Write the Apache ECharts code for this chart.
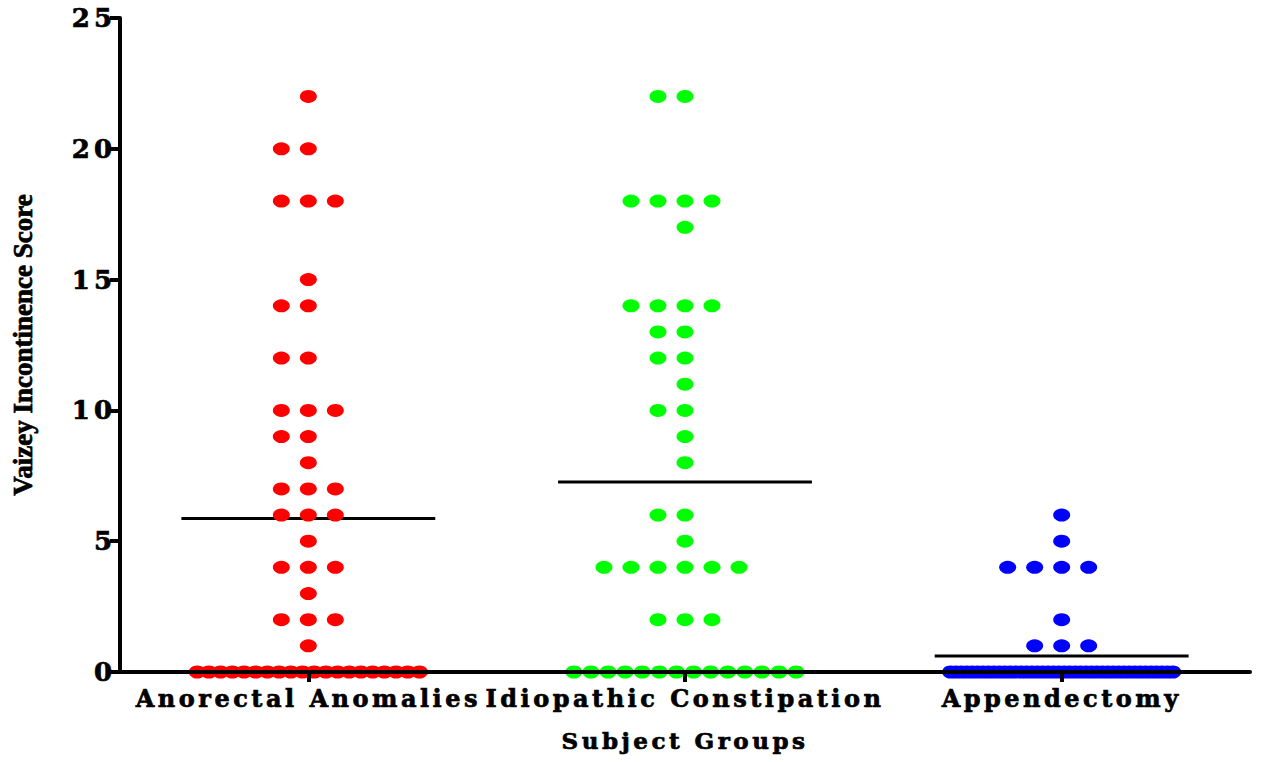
<!DOCTYPE html>
<html>
<head>
<meta charset="utf-8">
<script src="https://cdn.jsdelivr.net/npm/echarts@6/dist/echarts.min.js"></script>
<style>
  html, body { margin: 0; padding: 0; background: #ffffff; }
  #chart { width: 1261px; height: 762px; }
  /* widen the bold serif labels a little */
  #chart text[style*="26px"] { letter-spacing: 4px; }
  #chart text[style*="24px"] { letter-spacing: 3.5px; }
  #chart text[style*="23px"] { letter-spacing: 3.5px; }
</style>
</head>
<body>
<div id="chart"></div>
<script>
// Subject groups shown along the x axis
const groupNames = ['Anorectal Anomalies', 'Idiopathic Constipation', 'Appendectomy'];
const groupColors = ['#ff0000', '#00ff00', '#0000ff'];

// Vaizey incontinence score of every subject, one array per group
const anorectalScores = [
  22, 20, 20, 18, 18, 18, 15, 14, 14, 12, 12, 10, 10, 10, 9, 9, 8,
  7, 7, 7, 6, 6, 6, 5, 4, 4, 4, 3, 2, 2, 2, 1,
  0, 0, 0, 0, 0, 0, 0, 0, 0, 0, 0, 0, 0, 0, 0, 0, 0, 0, 0, 0
];
const idiopathicScores = [
  22, 22, 18, 18, 18, 18, 17, 14, 14, 14, 14, 13, 13, 12, 12, 11, 10, 10,
  9, 8, 6, 6, 5, 4, 4, 4, 4, 4, 4, 2, 2, 2,
  0, 0, 0, 0, 0, 0, 0, 0, 0, 0, 0, 0, 0, 0
];
const appendectomyScores = [
  6, 5, 4, 4, 4, 4, 2, 1, 1, 1,
  0, 0, 0, 0, 0, 0, 0, 0, 0, 0, 0, 0, 0, 0, 0, 0, 0, 0, 0, 0, 0,
  0, 0, 0, 0, 0, 0, 0, 0, 0, 0, 0, 0, 0, 0, 0, 0, 0, 0, 0, 0, 0
];

// y axis ticks
const scoreTicks = [0, 5, 10, 15, 20, 25];

const groupScores = [anorectalScores, idiopathicScores, appendectomyScores];

// Dot-plot layout: points with equal score are spread sideways around the
// group centre; wide rows are squeezed to stay inside the group column.
const DOT_STEP = 0.0717;   // spacing between neighbouring dots (x units)
const MAX_SPAN = 0.59;     // widest spread of one row (x units)
const MEAN_HALF = 0.337;   // half length of the mean bar (x units)

function layoutGroup(scores, centre) {
  const rows = new Map();
  scores.forEach(v => {
    if (!rows.has(v)) rows.set(v, 0);
    rows.set(v, rows.get(v) + 1);
  });
  const pts = [];
  rows.forEach((n, v) => {
    let offsets = [];
    if ((n - 1) * DOT_STEP > MAX_SPAN) {
      const s = MAX_SPAN / (n - 1);
      for (let i = 0; i < n; i++) offsets.push((i - (n - 1) / 2) * s);
    } else {
      const start = -Math.floor(n / 2);
      for (let i = 0; i < n; i++) offsets.push((start + i) * DOT_STEP);
    }
    offsets.forEach(o => pts.push([centre + o, v]));
  });
  return pts;
}

function mean(arr) {
  return arr.reduce((a, b) => a + b, 0) / arr.length;
}

const series = [];
groupScores.forEach((scores, i) => {
  const c = i + 0.5;
  const m = mean(scores);
  series.push({
    type: 'line',
    xAxisIndex: 1,
    yAxisIndex: 0,
    data: [[c - MEAN_HALF, m], [c + MEAN_HALF, m]],
    symbol: 'none',
    lineStyle: { color: '#000000', width: 3 },
    z: 1,
    silent: true
  });
  series.push({
    type: 'scatter',
    name: groupNames[i],
    xAxisIndex: 1,
    yAxisIndex: 0,
    data: layoutGroup(scores, c),
    symbol: 'circle',
    symbolSize: [17, 13],
    itemStyle: { color: groupColors[i], opacity: 1 },
    z: 2,
    silent: true
  });
});

const serif = "'DejaVu Serif', 'Liberation Serif', serif";
// heavy black lettering used by every axis text
const heavyText = { color: '#000', fontWeight: 'bold', textBorderColor: '#000', textBorderWidth: 0.7 };

const chart = echarts.init(document.getElementById('chart'), null, { renderer: 'svg' });
chart.setOption({
  animation: false,
  backgroundColor: '#ffffff',
  grid: { left: 120, right: 11, top: 18, bottom: 90, containLabel: false },
  xAxis: [
    {
      type: 'category',
      data: groupNames,
      boundaryGap: true,
      z: 10,
      name: 'Subject Groups',
      nameLocation: 'middle',
      nameGap: 57,
      nameTextStyle: Object.assign({ fontFamily: serif, fontSize: 23 }, heavyText),
      axisLine: { show: true, lineStyle: { color: '#000', width: 4 } },
      axisTick: { show: true, alignWithLabel: true, length: 10, lineStyle: { color: '#000', width: 4 } },
      axisLabel: Object.assign({ fontFamily: serif, fontSize: 24, margin: 14, interval: 0 }, heavyText),
      splitLine: { show: false }
    },
    {
      type: 'value',
      min: 0,
      max: 3,
      show: false
    }
  ],
  yAxis: [
    {
      type: 'value',
      min: scoreTicks[0],
      max: scoreTicks[scoreTicks.length - 1],
      interval: 5,
      z: 10,
      name: 'Vaizey Incontinence Score',
      nameLocation: 'middle',
      nameGap: 84,
      nameRotate: 90,
      nameTextStyle: Object.assign({ fontFamily: "'Liberation Serif', serif", fontSize: 27 }, heavyText),
      axisLine: { show: true, lineStyle: { color: '#000', width: 4 } },
      axisTick: { show: true, inside: false, length: 10, lineStyle: { color: '#000', width: 4 } },
      axisLabel: Object.assign({ fontFamily: serif, fontSize: 26, margin: 4 }, heavyText),
      splitLine: { show: false }
    }
  ],
  series: series
});
</script>
</body>
</html>
